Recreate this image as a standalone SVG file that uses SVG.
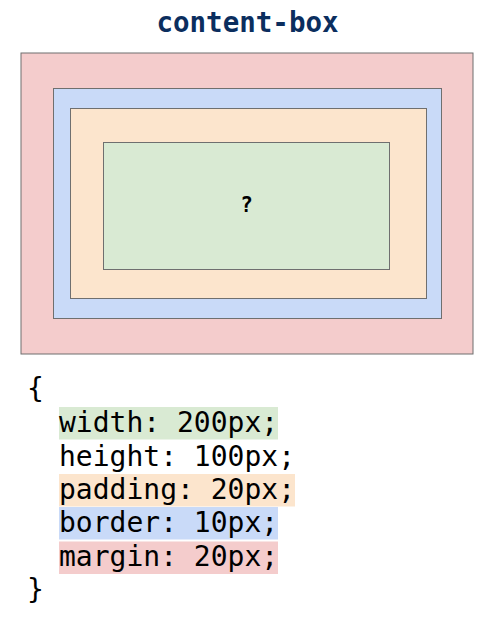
<svg xmlns="http://www.w3.org/2000/svg" width="494" height="635" viewBox="0 0 494 635">
<style>
.box{stroke:#6f6f6f;stroke-width:1}
.code{font-family:"DejaVu Sans Mono","Liberation Mono",monospace;font-size:28px;fill:#000}
</style>
<rect width="494" height="635" fill="#fff"/>
<text x="247.5" y="32" text-anchor="middle" font-family="DejaVu Sans Mono, monospace" font-weight="bold" font-size="27.5" fill="#0b2e5e">content-box</text>
<g id="margin"><rect class="box" x="21" y="53" width="452" height="301" fill="#f4cccc"/></g>
<g id="border"><rect class="box" x="53.5" y="88.5" width="388" height="230" fill="#c9daf8"/></g>
<g id="padding"><rect class="box" x="70.5" y="108.5" width="356" height="190" fill="#fce5cd"/></g>
<g id="content"><rect class="box" x="103.5" y="142.5" width="286" height="127" fill="#d9ead3"/>
<text x="246.5" y="212" text-anchor="middle" font-family="DejaVu Sans Mono, monospace" font-weight="bold" font-size="21" fill="#000">?</text></g>
<g id="code">
<rect x="59" y="407" width="219" height="32.5" fill="#d9ead3"/>
<rect x="59" y="474" width="236" height="32.5" fill="#fce5cd"/>
<rect x="59" y="507" width="219" height="32.5" fill="#c9daf8"/>
<rect x="59" y="541.5" width="219" height="32.5" fill="#f4cccc"/>
<text class="code" x="27" y="398">{</text>
<text class="code" x="59" y="432">width: 200px;</text>
<text class="code" x="59" y="466">height: 100px;</text>
<text class="code" x="59" y="499">padding: 20px;</text>
<text class="code" x="59" y="532">border: 10px;</text>
<text class="code" x="59" y="566">margin: 20px;</text>
<text class="code" x="27" y="599">}</text>
</g>
</svg>
